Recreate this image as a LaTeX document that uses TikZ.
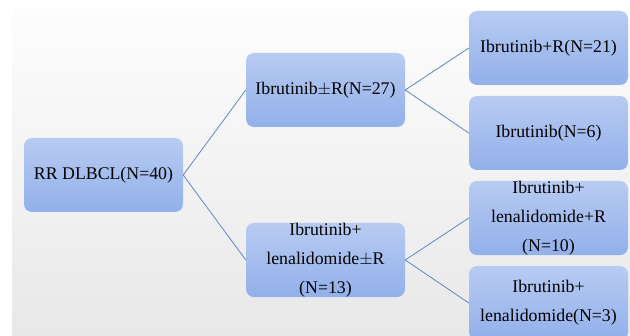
\documentclass[tikz,border=0pt]{standalone}
\usepackage{fontspec}
\setmainfont{Liberation Serif}
\definecolor{boxtop}{RGB}{184,203,242}
\definecolor{boxbot}{RGB}{146,176,234}
\definecolor{linkc}{RGB}{96,134,196}
\definecolor{bgtop}{RGB}{253,253,253}
\definecolor{bgbot}{RGB}{232,232,232}
\begin{document}
\begin{tikzpicture}[x=1pt,y=-1pt,
  boxn/.style={rounded corners=8pt, top color=boxtop, bottom color=boxbot, draw=none,
    minimum width=159pt, minimum height=74pt, align=center, inner sep=0pt,
    font=\fontsize{17.8}{29}\selectfont, text=black},
  link/.style={draw=linkc, line width=0.8pt}]
\useasboundingbox (0,0) rectangle (630,336);
\fill[white] (0,0) rectangle (630,336);
\shade[top color=bgtop, bottom color=bgbot] (12,10) rectangle (630,336);
\begin{scope}
\clip (0,0) rectangle (630,336);
\node[boxn] (root) at (103.5,175) {RR DLBCL(N=40)};
\node[boxn] (m1) at (325.5,90) {Ibrutinib$\pm$R(N=27)};
\node[boxn] (m2) at (325.5,260) {Ibrutinib+\\lenalidomide$\pm$R\\(N=13)};
\node[boxn] (r1) at (548.5,48) {Ibrutinib+R(N=21)};
\node[boxn] (r2) at (548.5,133) {Ibrutinib(N=6)};
\node[boxn] (r3) at (548.5,218) {Ibrutinib+\\lenalidomide+R\\(N=10)};
\node[boxn] (r4) at (548.5,303) {Ibrutinib+\\lenalidomide(N=3)};
\draw[link] (root.east) -- (m1.west);
\draw[link] (root.east) -- (m2.west);
\draw[link] (m1.east) -- (r1.west);
\draw[link] (m1.east) -- (r2.west);
\draw[link] (m2.east) -- (r3.west);
\draw[link] (m2.east) -- (r4.west);
\end{scope}
\end{tikzpicture}
\end{document}
